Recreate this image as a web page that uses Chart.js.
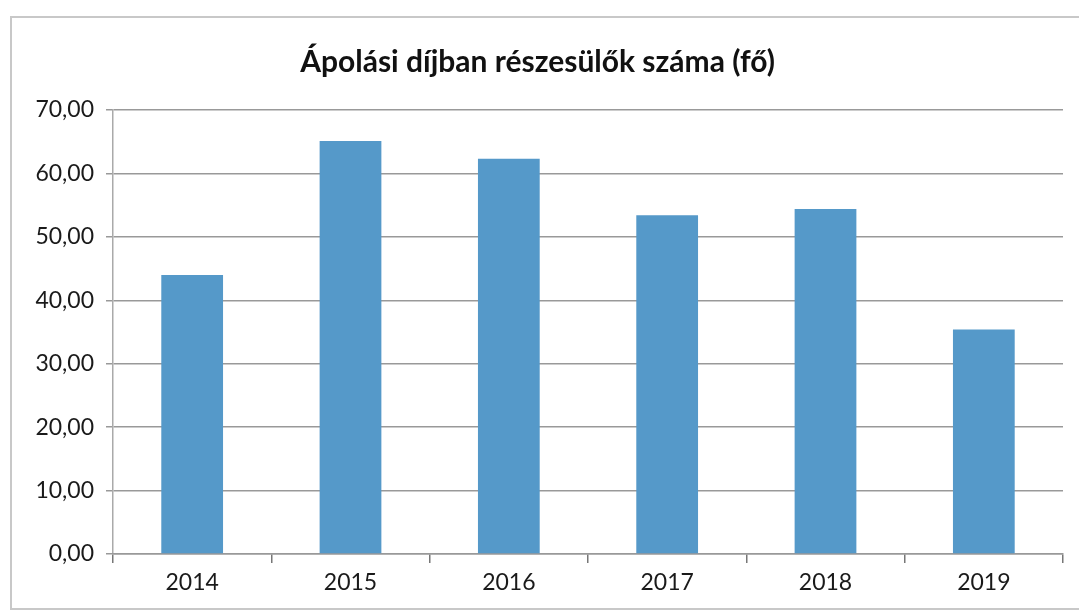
<!DOCTYPE html>
<html>
<head>
<meta charset="utf-8">
<script src="https://cdn.jsdelivr.net/npm/chart.js@4/dist/chart.umd.min.js"></script>
<style>
  html, body { margin: 0; padding: 0; background: #fff; overflow: hidden; }
  #frame {
    position: absolute; left: 10px; top: 16px;
    width: 1100px; height: 590px;
    border: 2px solid #c8c8c8;
  }
</style>
</head>
<body>
<div id="frame"><canvas id="chart"></canvas></div>
<script>
// data
const years = ['2014', '2015', '2016', '2017', '2018', '2019'];
const recipients = [44.0, 65.1, 62.3, 53.4, 54.4, 35.4];
const yTicks = [0, 10, 20, 30, 40, 50, 60, 70];

const titleText = 'Ápolási díjban részesülők száma (fő)';
const fontFamily = 'Lato, "Open Sans", sans-serif';

const ctx = document.getElementById('chart').getContext('2d');

new Chart(ctx, {
    type: 'bar',
    data: {
        labels: years,
        datasets: [{
            label: titleText,
            data: recipients,
            backgroundColor: '#5599c9',
            barPercentage: 0.39,
            categoryPercentage: 1.0
        }]
    },
    options: {
        responsive: true,
        maintainAspectRatio: false,
        animation: false,
        layout: { padding: { left: 0, right: 49, top: 0, bottom: 0 } },
        plugins: {
            legend: { display: false },
            tooltip: { enabled: false },
            title: {
                display: true,
                text: titleText,
                color: '#111',
                font: { family: fontFamily, size: 30, weight: 'bold' },
                padding: { top: 26, bottom: 30 }
            }
        },
        scales: {
            y: {
                min: 0,
                max: 70,
                afterBuildTicks: (scale) => {
                    scale.ticks = yTicks.map(v => ({ value: v }));
                },
                afterFit: (scale) => { scale.width = 101; },
                grid: {
                    color: '#999',
                    lineWidth: 1.5,
                    tickLength: 7
                },
                border: { color: '#aaa', width: 1.5 },
                ticks: {
                    color: '#1a1a1a',
                    padding: 12,
                    font: { family: fontFamily, size: 23 },
                    callback: (v) => v.toFixed(2).replace('.', ',')
                }
            },
            x: {
                afterFit: (scale) => { scale.height = 54; },
                grid: {
                    drawOnChartArea: false,
                    color: '#777',
                    lineWidth: 1.5,
                    tickLength: 9
                },
                border: { color: '#999', width: 1.5 },
                ticks: {
                    color: '#1a1a1a',
                    padding: 6,
                    font: { family: fontFamily, size: 23 }
                }
            }
        }
    }
});
</script>
</body>
</html>
